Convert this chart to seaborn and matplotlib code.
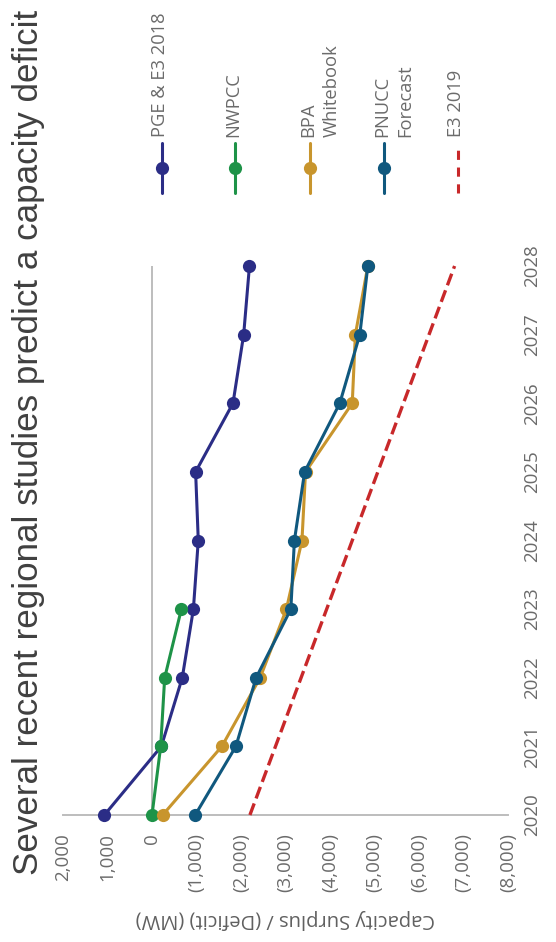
import pandas as pd
import matplotlib.pyplot as plt
import seaborn as sns
from matplotlib.lines import Line2D

# Años y superávit / (déficit) de capacidad en MW
years = [2020, 2021, 2022, 2023, 2024, 2025, 2026, 2027, 2028]
pge_e3_2018 = [1070, -210, -680, -930, -1040, -980, -1820, -2060, -2190]
nwpcc_years = [2020, 2021, 2022, 2023]
nwpcc = [0, -195, -285, -660]
bpa_whitebook = [-240, -1570, -2430, -3020, -3370, -3450, -4500, -4570, -4850]
pnucc_forecast = [-970, -1885, -2340, -3120, -3200, -3430, -4220, -4670, -4850]
e3_2019_years = [2020, 2028]
e3_2019 = [-2200, -6800]

value_ticks = [2000, 1000, 0, -1000, -2000, -3000, -4000, -5000, -6000, -7000, -8000]
value_labels = ['2,000', '1,000', '0', '(1,000)', '(2,000)', '(3,000)', '(4,000)',
                '(5,000)', '(6,000)', '(7,000)', '(8,000)']

series = [
    ('PGE & E3 2018', years, pge_e3_2018, '#2b2d86', '-', 'o'),
    ('NWPCC', nwpcc_years, nwpcc, '#1e9348', '-', 'o'),
    ('BPA\nWhitebook', years, bpa_whitebook, '#c8952d', '-', 'o'),
    ('PNUCC\nForecast', years, pnucc_forecast, '#10587e', '-', 'o'),
    ('E3 2019', e3_2019_years, e3_2019, '#c8282a', '--', None),
]

sns.set_style("white")
plt.rcParams['font.family'] = ['Open Sans', 'DejaVu Sans']

W, H = 556, 942
fig = plt.figure(figsize=(W / 100, H / 100), dpi=100)
ax = fig.add_axes([63 / W, 1 - 815 / H, (508 - 63) / W, (815 - 266) / H])

for name, yrs, vals, color, ls, mk in series:
    df = pd.DataFrame({'Year': yrs, 'MW': vals})
    sns.lineplot(data=df, x='MW', y='Year', orient='y', ax=ax, color=color,
                 linestyle=ls, marker=mk, markersize=9.5, markeredgewidth=0,
                 linewidth=2.2 if mk else 2.4, dashes=False if mk else (3, 2.5),
                 clip_on=False, zorder=3)

ax.set_xlim(2000, -8000)
ax.set_ylim(2020, 2028)
ax.axvline(0, color='#bdbdbd', linewidth=1.4, zorder=1)

for s in ['top', 'left', 'right']:
    ax.spines[s].set_visible(False)
ax.spines['bottom'].set_color('#bdbdbd')
ax.spines['bottom'].set_linewidth(1.4)

ax.set_xticks(value_ticks)
ax.set_xticklabels(value_labels)
ax.set_yticks(years)
ax.set_yticklabels([str(y) for y in years])
ax.yaxis.tick_right()
ax.tick_params(axis='x', rotation=90, length=0, pad=13, labelsize=13.5, labelcolor='#6b6b6b')
ax.tick_params(axis='y', rotation=90, length=0, pad=11, labelsize=13.5, labelcolor='#6b6b6b')
for t in ax.get_yticklabels():
    t.set_verticalalignment('center')
ax.set_xlabel('Capacity Surplus / (Deficit) (MW)', rotation=180, fontsize=14.5,
              color='#606060', labelpad=12)
ax.set_ylabel('')

# Leyenda girada, dibujada a mano
leg_x = [162, 235, 310, 384, 458]
for (name, yrs, vals, color, ls, mk), lx in zip(series, leg_x):
    line = Line2D([lx / W, lx / W], [1 - 193 / H, 1 - 143 / H], transform=fig.transFigure,
                  color=color, linewidth=2.2, linestyle=ls, dashes=(3, 2.5) if not mk else (None, None))
    fig.add_artist(line)
    if mk:
        fig.add_artist(Line2D([lx / W], [1 - 168 / H], transform=fig.transFigure,
                              color=color, marker=mk, markersize=9.5, markeredgewidth=0))
    fig.text((lx - 11) / W, 1 - 137 / H, name, rotation=90, ha='left', va='bottom',
             fontsize=13.2, color='#6b6b6b', linespacing=1.4, multialignment='left')

fig.text(29 / W, 1 - 442 / H, 'Several recent regional studies predict a capacity deficit',
         rotation=90, ha='center', va='center', fontsize=25.2, color='#404040',
         family=['Liberation Sans', 'DejaVu Sans'])

plt.savefig('out.png', dpi=100)
